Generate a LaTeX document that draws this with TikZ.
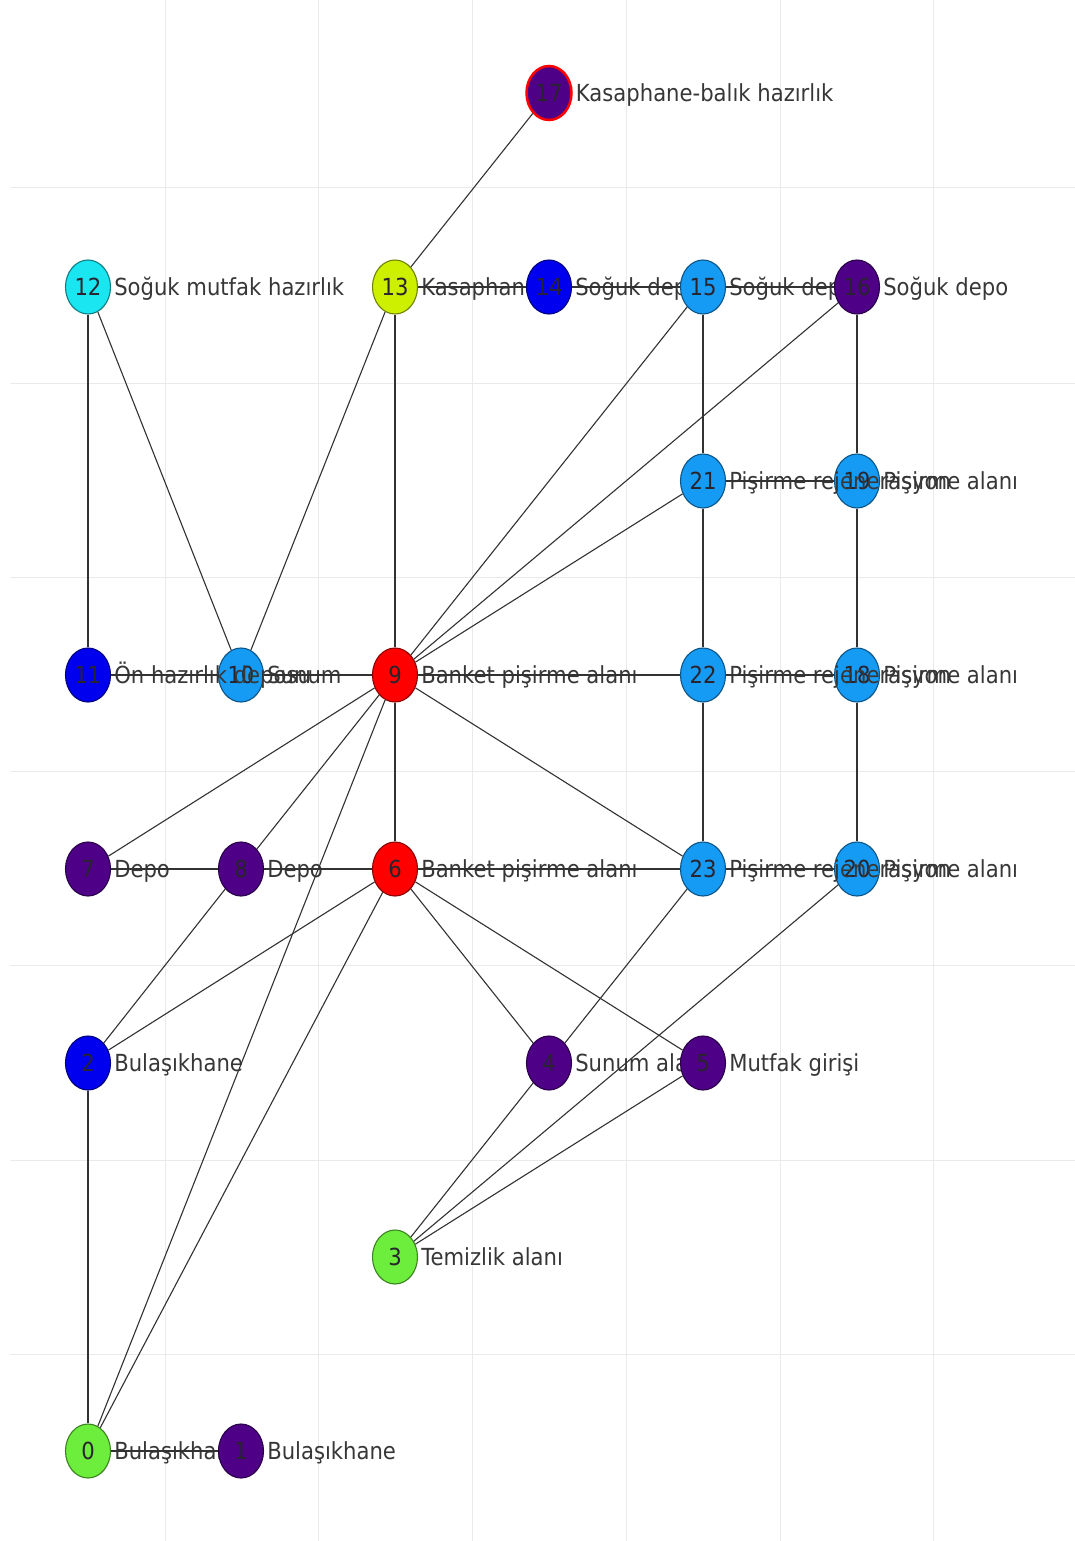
\documentclass[tikz,border=0pt]{standalone}
\usepackage{fontspec}
\setmainfont{DejaVu Sans}[FakeStretch=0.9]
\usetikzlibrary{shapes.geometric}
\definecolor{cgreen}{RGB}{110,238,60}
\definecolor{cpurple}{RGB}{78,0,135}
\definecolor{cblue}{RGB}{0,0,238}
\definecolor{clight}{RGB}{22,155,245}
\definecolor{ccyan}{RGB}{25,230,240}
\definecolor{cyellow}{RGB}{205,240,0}
\definecolor{cred}{RGB}{255,0,0}
\definecolor{numcol}{RGB}{40,35,45}
\definecolor{labcol}{RGB}{55,55,55}
\definecolor{edgecol}{RGB}{50,50,50}
\definecolor{gridcol}{RGB}{234,234,234}
\newcommand{\lfont}{\fontsize{23.5}{28}\selectfont}
\begin{document}
\begin{tikzpicture}[x=1pt,y=-1pt,
  vtx/.style={ellipse, minimum width=45pt, minimum height=54pt, inner sep=0pt,
    draw=#1!55!black, fill=#1, line width=1.1pt, text=numcol, font=\lfont},
  lab/.style={anchor=base west, inner sep=0pt, text=labcol, font=\lfont},
  edge/.style={draw=edgecol, line width=1.1pt},
  gridline/.style={draw=gridcol, line width=1pt}]
\useasboundingbox (0,0) rectangle (1075,1541);
\fill[white] (0,0) rectangle (1075,1541);
% grid
\foreach \gx in {165,318,472,626,780,933}
  \draw[gridline] (\gx,0) -- (\gx,1541);
\foreach \gy in {188,383,577,771,965,1160,1354}
  \draw[gridline] (10,\gy) -- (1075,\gy);
% nodes and labels in index order
\node[vtx=cgreen] (n0) at (88,1451) {0};
\node[lab] (l0) at ([xshift=3pt,yshift=-8.5pt]n0.east) {Bulaşıkhane};
\node[vtx=cpurple] (n1) at (241,1451) {1};
\node[lab] (l1) at ([xshift=3pt,yshift=-8.5pt]n1.east) {Bulaşıkhane};
\node[vtx=cblue] (n2) at (88,1063) {2};
\node[lab] (l2) at ([xshift=3pt,yshift=-8.5pt]n2.east) {Bulaşıkhane};
\node[vtx=cgreen] (n3) at (395,1257) {3};
\node[lab] (l3) at ([xshift=3pt,yshift=-8.5pt]n3.east) {Temizlik alanı};
\node[vtx=cpurple] (n4) at (549,1063) {4};
\node[lab] (l4) at ([xshift=3pt,yshift=-8.5pt]n4.east) {Sunum alanı};
\node[vtx=cpurple] (n5) at (703,1063) {5};
\node[lab] (l5) at ([xshift=3pt,yshift=-8.5pt]n5.east) {Mutfak girişi};
\node[vtx=cred] (n6) at (395,869) {6};
\node[lab] (l6) at ([xshift=3pt,yshift=-8.5pt]n6.east) {Banket pişirme alanı};
\node[vtx=cpurple] (n7) at (88,869) {7};
\node[lab] (l7) at ([xshift=3pt,yshift=-8.5pt]n7.east) {Depo};
\node[vtx=cpurple] (n8) at (241,869) {8};
\node[lab] (l8) at ([xshift=3pt,yshift=-8.5pt]n8.east) {Depo};
\node[vtx=cred] (n9) at (395,675) {9};
\node[lab] (l9) at ([xshift=3pt,yshift=-8.5pt]n9.east) {Banket pişirme alanı};
\node[vtx=clight] (n10) at (241,675) {10};
\node[lab] (l10) at ([xshift=3pt,yshift=-8.5pt]n10.east) {Sunum};
\node[vtx=cblue] (n11) at (88,675) {11};
\node[lab] (l11) at ([xshift=3pt,yshift=-8.5pt]n11.east) {Ön hazırlık deposu};
\node[vtx=ccyan] (n12) at (88,287) {12};
\node[lab] (l12) at ([xshift=3pt,yshift=-8.5pt]n12.east) {Soğuk mutfak hazırlık};
\node[vtx=cyellow] (n13) at (395,287) {13};
\node[lab] (l13) at ([xshift=3pt,yshift=-8.5pt]n13.east) {Kasaphane};
\node[vtx=cblue] (n14) at (549,287) {14};
\node[lab] (l14) at ([xshift=3pt,yshift=-8.5pt]n14.east) {Soğuk depo};
\node[vtx=clight] (n15) at (703,287) {15};
\node[lab] (l15) at ([xshift=3pt,yshift=-8.5pt]n15.east) {Soğuk depo};
\node[vtx=cpurple] (n16) at (857,287) {16};
\node[lab] (l16) at ([xshift=3pt,yshift=-8.5pt]n16.east) {Soğuk depo};
\node[vtx=cpurple, draw=cred, line width=2.5pt] (n17) at (549,93) {17};
\node[lab] (l17) at ([xshift=3pt,yshift=-8.5pt]n17.east) {Kasaphane-balık hazırlık};
\node[vtx=clight] (n18) at (857,675) {18};
\node[lab] (l18) at ([xshift=3pt,yshift=-8.5pt]n18.east) {Pişirme alanı};
\node[vtx=clight] (n19) at (857,481) {19};
\node[lab] (l19) at ([xshift=3pt,yshift=-8.5pt]n19.east) {Pişirme alanı};
\node[vtx=clight] (n20) at (857,869) {20};
\node[lab] (l20) at ([xshift=3pt,yshift=-8.5pt]n20.east) {Pişirme alanı};
\node[vtx=clight] (n21) at (703,481) {21};
\node[lab] (l21) at ([xshift=3pt,yshift=-8.5pt]n21.east) {Pişirme rejenerasyon};
\node[vtx=clight] (n22) at (703,675) {22};
\node[lab] (l22) at ([xshift=3pt,yshift=-8.5pt]n22.east) {Pişirme rejenerasyon};
\node[vtx=clight] (n23) at (703,869) {23};
\node[lab] (l23) at ([xshift=3pt,yshift=-8.5pt]n23.east) {Pişirme rejenerasyon};
% edges
\foreach \a/\b in {17/13,13/14,14/15,15/16,12/11,12/10,13/10,13/9,15/21,15/9,
  16/19,16/9,21/19,21/9,21/22,19/18,11/10,10/9,9/22,22/18,22/23,18/20,
  9/7,9/8,9/6,9/0,9/23,7/8,8/6,6/23,23/20,8/2,6/2,6/0,6/4,6/5,23/4,
  20/3,2/0,0/1,3/4,3/5}
  \draw[edge] (n\a) -- (n\b);
\end{tikzpicture}
\end{document}
